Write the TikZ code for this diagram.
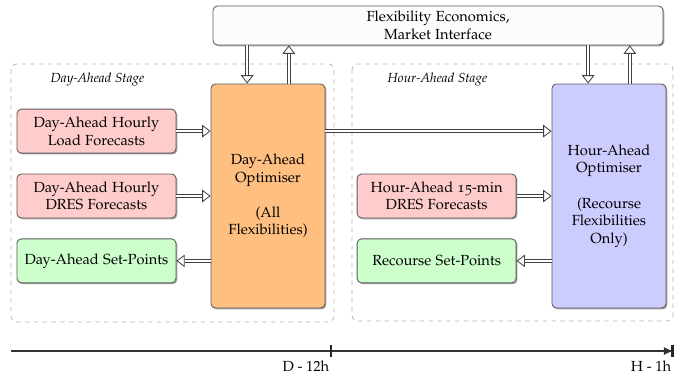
\documentclass[tikz,border=0pt]{standalone}
\usepackage[T1]{fontenc}
\usepackage[osf]{mathpazo}
\usepackage{xcolor}
\usetikzlibrary{positioning,arrows.meta,shadows}
\definecolor{boxline}{HTML}{5A5A5A}
\definecolor{fcastcol}{HTML}{FFCCCC}
\definecolor{setcol}{HTML}{CCFFCC}
\definecolor{daoptcol}{HTML}{FFBF80}
\definecolor{haoptcol}{HTML}{CCCCFF}
\definecolor{marketcol}{HTML}{FCFCFC}

\begin{document}
\begin{tikzpicture}[
  node distance=0.48cm,
  base/.style={
    draw=boxline, line width=0.6pt, rounded corners=3pt, align=center,
    drop shadow={shadow xshift=0.9pt, shadow yshift=-0.9pt, fill=black!50, opacity=0.7},
  },
  fcast/.style={base, fill=fcastcol, minimum width=3.816cm, minimum height=1.056cm},
  setpt/.style={base, fill=setcol, minimum width=3.816cm, minimum height=1.056cm},
  daoptbox/.style={base, fill=daoptcol, minimum width=2.736cm, minimum height=5.376cm},
  haoptbox/.style={base, fill=haoptcol, minimum width=2.736cm, minimum height=5.376cm},
  market/.style={base, fill=marketcol, minimum width=10.8cm, minimum height=0.936cm},
  stage/.style={draw=black!30, dashed, line width=0.5pt, rounded corners=4pt},
  stagelabel/.style={font=\small\itshape},
  dblarrow/.style={double, double distance=1.4pt, line width=0.55pt, draw=black!75,
    -{Triangle[open, length=2mm, width=3mm]}},
  timeline/.style={line width=0.8pt, draw=black!80},
  tick/.style={line width=2pt, draw=black!85},
  timelabel/.style={anchor=north east, inner sep=1pt, font=\fontfamily{ppl}\selectfont}
]
\useasboundingbox (0,0) rectangle (16.2,-9.048);

% Stage frames
\draw[stage] (0.264,-1.536) rectangle (8.016,-7.728);
\draw[stage] (8.448,-1.536) rectangle (16.152,-7.704);

% Market interface on top
\node[market] (market) at (10.512,-0.612) {Flexibility Economics,\\Market Interface};

% Optimisers
\node[daoptbox] (daopt) at (6.432,-4.704) {Day-Ahead\\Optimiser\\[\baselineskip](All\\Flexibilities)};
\node[haoptbox] (haopt) at (14.616,-4.704) {Hour-Ahead\\Optimiser\\[\baselineskip](Recourse\\Flexibilities\\Only)};

% Day-ahead stage
\node[fcast, left=0.82cm of daopt] (dadres) {Day-Ahead Hourly\\DRES Forecasts};
\node[fcast, above=of dadres] (daload) {Day-Ahead Hourly\\Load Forecasts};
\node[setpt, below=of dadres] (daset) {Day-Ahead Set-Points};

% Hour-ahead stage
\node[fcast, left=0.84cm of haopt] (hadres) {Hour-Ahead 15-min\\DRES Forecasts};
\node[setpt, below=of hadres] (haset) {Recourse Set-Points};

% Stage labels
\node[stagelabel] (dalabel) at (2.34,-1.92) {Day-Ahead Stage};
\node[stagelabel] (halabel) at (10.5,-1.92) {Hour-Ahead Stage};

% Market links
\draw[dblarrow] ([xshift=-0.5cm]daopt.north |- market.south) -- ([xshift=-0.5cm]daopt.north);
\draw[dblarrow] ([xshift=0.5cm]daopt.north) -- ([xshift=0.5cm]daopt.north |- market.south);
\draw[dblarrow] ([xshift=-0.5cm]haopt.north |- market.south) -- ([xshift=-0.5cm]haopt.north);
\draw[dblarrow] ([xshift=0.5cm]haopt.north) -- ([xshift=0.5cm]haopt.north |- market.south);

% Inputs and outputs
\draw[dblarrow] (daload.east) -- (daload.east -| daopt.west);
\draw[dblarrow] (dadres) -- (daopt);
\draw[dblarrow] (daset.east -| daopt.west) -- (daset.east);
\draw[dblarrow] (daload.east -| daopt.east) -- (daload.east -| haopt.west);
\draw[dblarrow] (hadres) -- (haopt);
\draw[dblarrow] (haset.east -| haopt.west) -- (haset.east);

% Time axis
\coordinate (tstart) at (0.264,-8.424);
\coordinate (tmid) at (7.944,-8.424);
\coordinate (tend) at (16.15,-8.424);
\draw[timeline, -{Latex[length=2.2mm, width=2mm]}] (tstart) -- (tend);
\draw[tick] ([yshift=0.14cm]tmid) -- ([yshift=-0.14cm]tmid);
\draw[tick] ([yshift=0.14cm]tend) -- ([yshift=-0.14cm]tend);
\node[timelabel] (dlabel) at ([yshift=-0.2cm]tmid) {D - 12h};
\node[timelabel] (hlabel) at ([yshift=-0.2cm]tend) {H - 1h};

\end{tikzpicture}
\end{document}
